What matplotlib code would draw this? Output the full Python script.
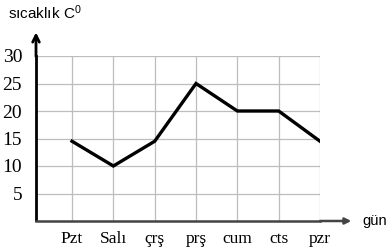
import matplotlib.pyplot as plt

# günler ve sıcaklık değerleri
gunler = ['Pzt', 'Salı', 'çrş', 'prş', 'cum', 'cts', 'pzr']
sicaklik = [14.5, 10, 14.5, 25, 20, 20, 14.5]
y_ticks = [5, 10, 15, 20, 25, 30]

plt.rcParams['mathtext.fontset'] = 'custom'
plt.rcParams['mathtext.rm'] = 'Liberation Sans'
plt.rcParams['mathtext.it'] = 'Liberation Sans'

fig = plt.figure(figsize=(3.87, 2.48), dpi=100)
ax = fig.add_axes([36/387, 27/248, 284/387, 165/248])

x = list(range(len(gunler)))
ax.plot(x, sicaklik, color='black', lw=2.4, solid_joinstyle='miter')

ax.set_xlim(-36/41.3, len(gunler) - 1)
ax.set_ylim(0, 30)
ax.set_xticks(x)
ax.set_xticklabels(gunler, family='Liberation Serif', fontsize=12.5)
ax.set_yticks(y_ticks)
ax.set_yticklabels([str(v) for v in y_ticks], family='Liberation Serif', fontsize=14)
ax.tick_params(length=0)
ax.tick_params(axis='y', pad=10)
ax.tick_params(axis='x', pad=7)
ax.grid(True, color='#bdbdbd', lw=0.9)

for s in ['top', 'right']:
    ax.spines[s].set_visible(False)
ax.spines['left'].set_linewidth(2)
ax.spines['left'].set_color('black')
ax.spines['left'].set_bounds(0.25, 30)
ax.spines['bottom'].set_linewidth(1.8)
ax.spines['bottom'].set_color('#444444')

# eksen okları
ax.annotate('', xy=(0, 1.16), xytext=(0, 0.98), xycoords='axes fraction',
            arrowprops=dict(arrowstyle='->', lw=2, color='black', mutation_scale=12))
ax.annotate('', xy=(1.12, 0), xytext=(0.99, 0), xycoords='axes fraction',
            arrowprops=dict(arrowstyle='-|>', lw=1.8, color='#444444', mutation_scale=9))

fig.text(8/387, 1 - 13/248, 'sıcaklık C$^0$', family='Liberation Sans', fontsize=11,
         va='center', ha='left')
fig.text(362/387, 1 - 221/248, 'gün', family='Liberation Sans', fontsize=10.5,
         va='center', ha='left')

plt.savefig('out.png', dpi=100)
